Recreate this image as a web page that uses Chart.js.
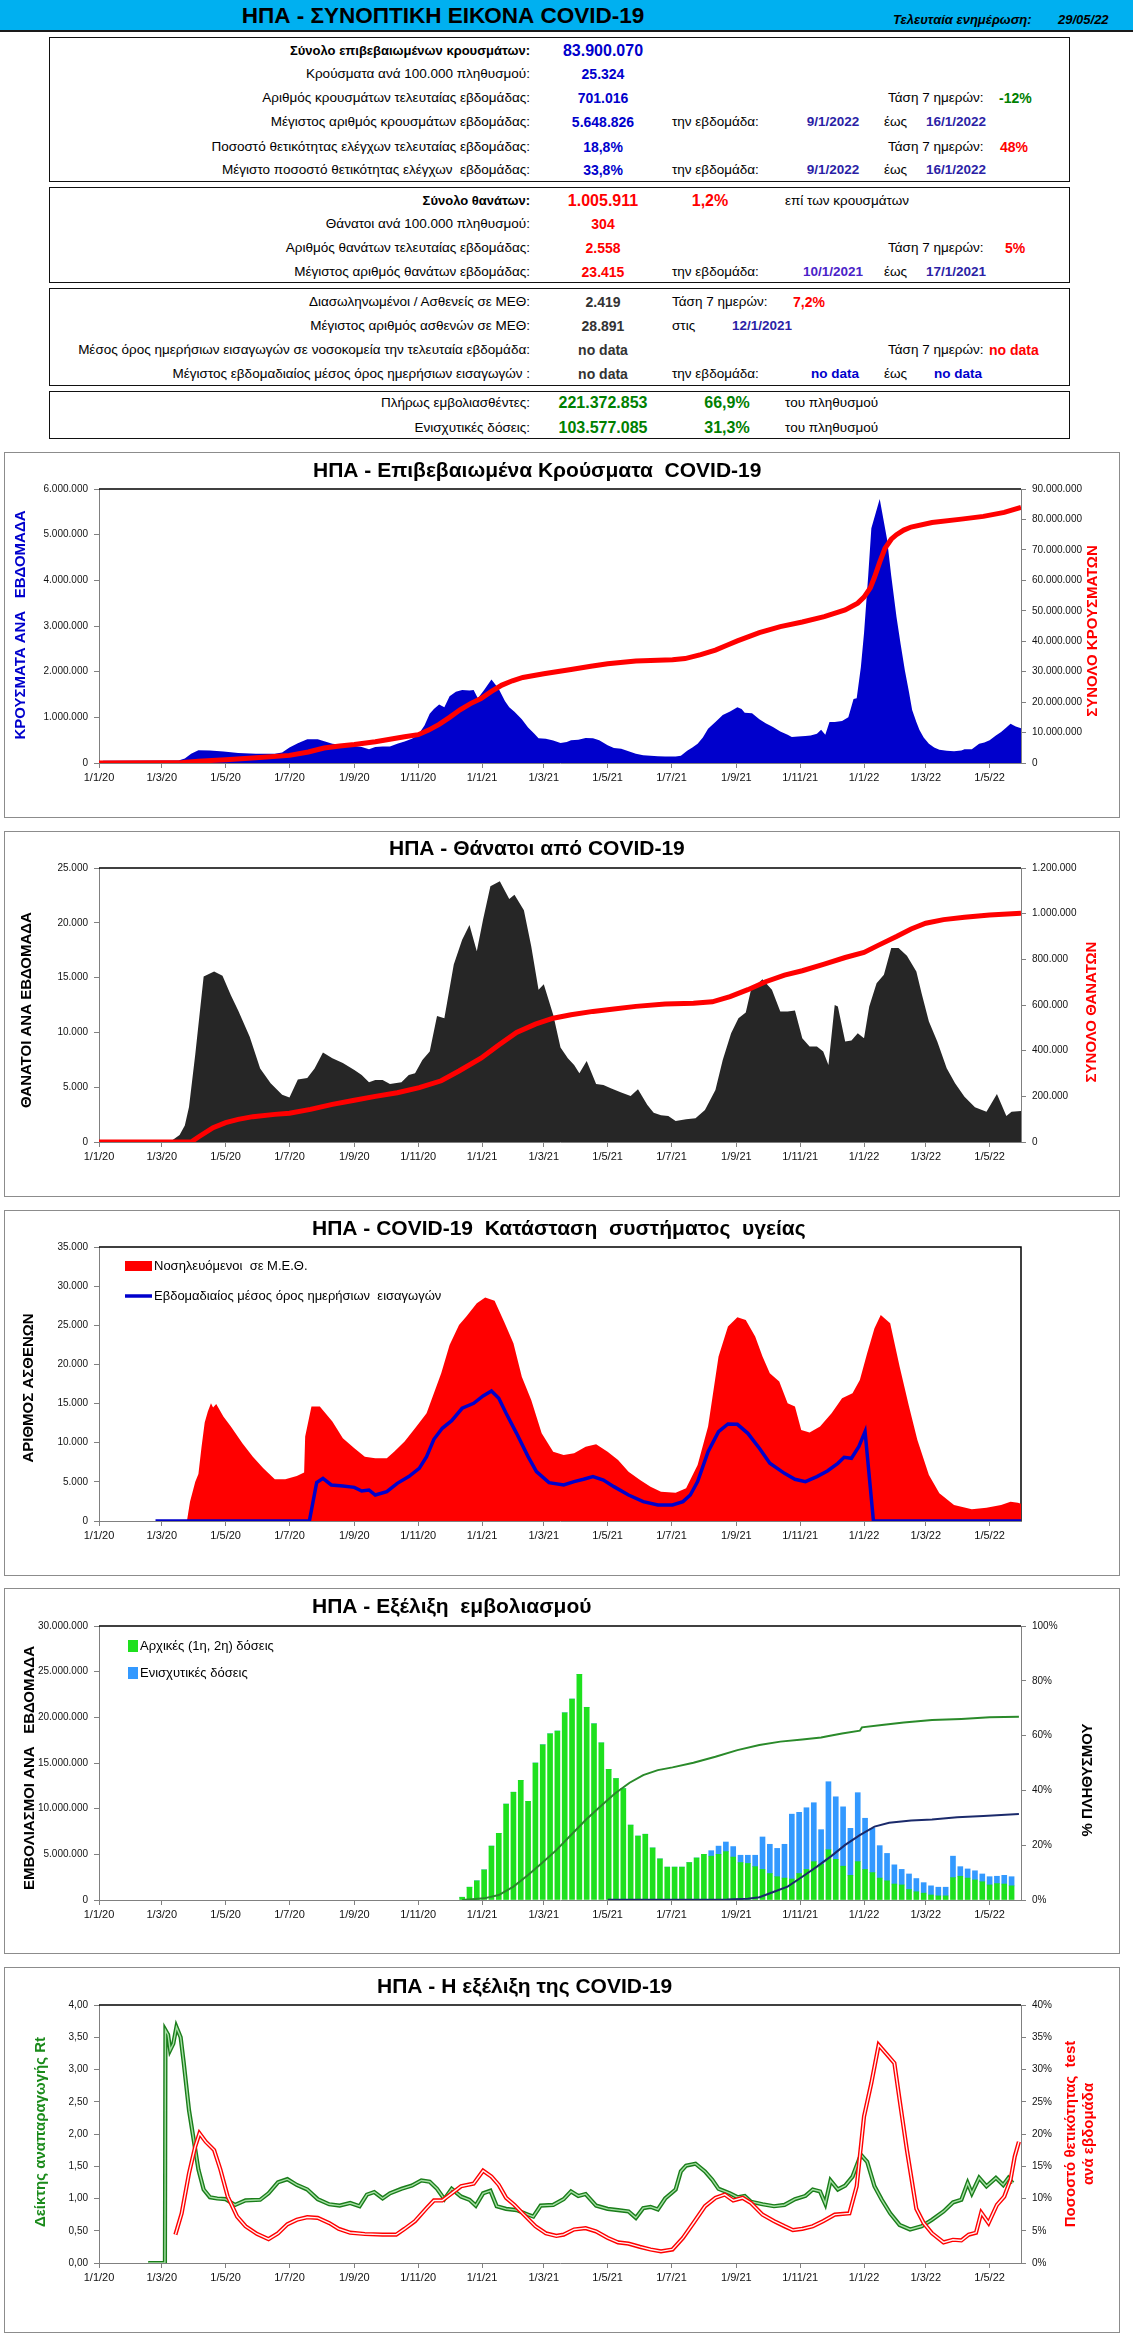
<!DOCTYPE html>
<html>
<head>
<meta charset="utf-8">
<script src="https://cdn.jsdelivr.net/npm/chart.js@4.4.1/dist/chart.umd.min.js"></script>
<style>
  html, body { margin: 0; padding: 0; background: #fff; }
  body { width: 1133px; height: 2345px; position: relative; overflow: hidden;
         font-family: "Liberation Sans", Arial, sans-serif; }
  .hdr { position: absolute; left: 0; top: 0; width: 1133px; height: 30px;
         background: #00b0f0; border-bottom: 2px solid #1a1a1a; }
  .box { position: absolute; left: 49px; width: 1021px; border: 1.5px solid #111; box-sizing: border-box; }
  .t { position: absolute; white-space: pre; font-size: 13.5px; line-height: 16px; color: #000; }
  .panel { position: absolute; left: 4px; width: 1116px; height: 366px;
           border: 1px solid #8c8c8c; box-sizing: border-box; }
  .panel canvas { position: absolute; left: 0; top: 0; }
</style>
</head>
<body>
<div class="hdr"></div>
<div class="box" style="top:37px;height:145px"></div>
<div class="box" style="top:187px;height:96px"></div>
<div class="box" style="top:288px;height:98px"></div>
<div class="box" style="top:391px;height:48px"></div>

<div class="panel" style="top:452px"><canvas id="c1" width="1114" height="364"></canvas></div>
<div class="panel" style="top:831px"><canvas id="c2" width="1114" height="364"></canvas></div>
<div class="panel" style="top:1210px"><canvas id="c3" width="1114" height="364"></canvas></div>
<div class="panel" style="top:1588px"><canvas id="c4" width="1114" height="364"></canvas></div>
<div class="panel" style="top:1967px"><canvas id="c5" width="1114" height="364"></canvas></div>

<script>
// ---- x axis: days counted from 1/1/2020 ----
const DAY_END = 881;
const tickDays = [0, 60, 121, 182, 244, 305, 366, 425, 486, 547, 609, 670, 731, 790, 851];
const tickLabels = ['1/1/20', '1/3/20', '1/5/20', '1/7/20', '1/9/20', '1/11/20', '1/1/21', '1/3/21',
                    '1/5/21', '1/7/21', '1/9/21', '1/11/21', '1/1/22', '1/3/22', '1/5/22'];

// ---- chart 1: weekly cases / total cases ----
const caseDays = [0, 4, 76, 82, 88, 95, 106, 119, 133, 150, 168, 175, 182, 190, 199, 209, 216, 223, 235, 244,
  251, 258, 264, 271, 278, 285, 292, 299, 305, 311, 316, 320, 325, 330, 335, 341, 347, 354, 358, 362, 368, 375,
  382, 388, 392, 397, 404, 410, 416, 420, 427, 434, 441, 447, 451, 458, 465, 472, 478, 486, 492, 499, 506, 513,
  520, 527, 534, 541, 551, 556, 562, 567, 572, 577, 582, 589, 596, 603, 610, 614, 617, 624, 631, 637, 644, 651,
  658, 662, 668, 675, 680, 686, 690, 694, 698, 703, 710, 716, 721, 724, 728, 731, 735, 738, 746, 753, 757, 762,
  766, 770, 774, 777, 781, 784, 788, 793, 798, 803, 810, 817, 824, 827, 834, 841, 846, 851, 857, 862, 867, 871,
  876, 881];
const casesWeekly = [0, 50000, 55000, 100000, 200000, 280000, 275000, 250000, 220000, 205000, 205000, 230000,
  340000, 430000, 520000, 520000, 470000, 420000, 390000, 370000, 350000, 300000, 350000, 360000, 360000, 420000,
  470000, 530000, 620000, 820000, 1080000, 1180000, 1280000, 1220000, 1460000, 1560000, 1600000, 1590000, 1600000,
  1420000, 1600000, 1830000, 1620000, 1350000, 1220000, 1120000, 960000, 780000, 640000, 540000, 530000, 490000,
  440000, 460000, 500000, 510000, 550000, 540000, 500000, 390000, 330000, 310000, 260000, 200000, 170000, 160000,
  150000, 140000, 140000, 160000, 270000, 340000, 420000, 560000, 750000, 900000, 1050000, 1130000, 1220000,
  1180000, 1100000, 1090000, 960000, 870000, 790000, 690000, 620000, 570000, 580000, 590000, 600000, 640000,
  730000, 620000, 900000, 900000, 920000, 1000000, 1400000, 1420000, 2100000, 2840000, 4100000, 5140000, 5780000,
  4900000, 4100000, 3200000, 2600000, 2030000, 1550000, 1160000, 900000, 720000, 560000, 420000, 340000, 290000,
  270000, 260000, 275000, 300000, 300000, 420000, 450000, 500000, 600000, 680000, 780000, 860000, 800000, 760000];
const totalCaseDays = [0, 60, 80, 95, 121, 150, 182, 200, 215, 230, 244, 264, 278, 292, 305, 315, 325, 335, 345,
  355, 365, 375, 385, 395, 405, 425, 451, 470, 486, 513, 548, 560, 575, 589, 600, 610, 631, 651, 672, 693, 713,
  725, 731, 737, 741, 746, 751, 757, 762, 769, 776, 796, 824, 845, 865, 881];
const casesTotal = [0, 100000, 200000, 600000, 1100000, 1700000, 2500000, 3600000, 4900000, 5600000, 6100000,
  7000000, 7800000, 8600000, 9300000, 10800000, 12700000, 15000000, 17500000, 19500000, 21200000, 23500000,
  25600000, 27000000, 28100000, 29300000, 30700000, 31800000, 32600000, 33500000, 33900000, 34300000, 35600000,
  37100000, 38700000, 40100000, 42800000, 44800000, 46300000, 48100000, 50300000, 52500000, 54500000, 57500000,
  61000000, 66000000, 70500000, 73500000, 75000000, 76500000, 77500000, 79000000, 80100000, 81000000, 82300000,
  84000000];

// ---- chart 2: weekly deaths / total deaths ----
const deathDays = [0, 4, 70, 77, 82, 86, 92, 100, 110, 118, 126, 133, 144, 154, 164, 175, 182, 190, 199, 206, 214,
  223, 233, 244, 251, 258, 264, 271, 278, 289, 296, 302, 309, 316, 323, 330, 339, 347, 354, 361, 367, 374, 383,
  392, 397, 406, 413, 420, 425, 434, 441, 448, 454, 459, 466, 475, 482, 489, 499, 508, 515, 524, 530, 537, 544,
  551, 561, 570, 579, 589, 596, 604, 611, 618, 623, 634, 643, 651, 658, 665, 672, 679, 686, 692, 697, 703, 706,
  713, 719, 725, 731, 736, 743, 750, 757, 764, 772, 781, 786, 793, 801, 810, 818, 827, 837, 848, 858, 867, 872, 881];
const deathsWeekly = [0, 150, 150, 640, 1500, 3200, 8000, 15100, 15560, 15160, 13400, 12000, 9600, 6700, 5360,
  4300, 4050, 5700, 5850, 6700, 8160, 7640, 7200, 6580, 6120, 5450, 5660, 5660, 5300, 5450, 6120, 6270, 7490,
  8250, 11500, 11300, 16200, 18450, 19800, 17400, 20300, 23330, 23790, 22170, 22570, 21140, 17850, 13890, 14400,
  11600, 8620, 7640, 7030, 6270, 7400, 5300, 5210, 4900, 4510, 4200, 4810, 3380, 2680, 2440, 2380, 1920, 2070,
  2160, 2920, 4750, 7490, 9930, 11300, 11810, 13890, 14860, 13890, 11900, 11900, 12000, 9470, 8710, 8710, 8250,
  7030, 12510, 12360, 9170, 9260, 9930, 9470, 12360, 14490, 15250, 17690, 17690, 17000, 15560, 13580, 11000, 9170,
  6740, 5360, 4140, 3170, 2770, 4390, 2380, 2770, 2830];
const totalDeathDays = [0, 88, 95, 109, 121, 133, 147, 168, 182, 202, 223, 244, 264, 285, 306, 327, 344, 365, 382,
  399, 417, 434, 451, 472, 492, 513, 541, 568, 586, 603, 620, 637, 655, 672, 693, 713, 731, 744, 762, 776, 790,
  807, 827, 851, 881];
const deathsTotal = [0, 0, 22000, 63000, 85000, 99000, 111000, 121000, 126000, 143000, 165000, 183000, 200000,
  216000, 238000, 268000, 311000, 367000, 425000, 480000, 516000, 542000, 557000, 572000, 582000, 594000, 604000,
  608000, 614000, 637000, 667000, 702000, 731000, 750000, 779000, 808000, 830000, 860000, 900000, 933000, 958000,
  974000, 984000, 994000, 1002000];

// ---- chart 3: ICU patients / weekly mean of daily admissions ----
const icuDays = [84, 87, 92, 95, 98, 101, 104, 107, 109, 112, 119, 126, 137, 147, 157, 168, 178, 189, 196, 197, 203,
  211, 223, 233, 244, 254, 264, 275, 282, 292, 302, 313, 320, 327, 335, 344, 351, 361, 369, 378, 387, 396, 404,
  413, 423, 434, 444, 454, 465, 475, 486, 496, 506, 517, 527, 537, 551, 561, 572, 582, 592, 601, 610, 618, 627,
  634, 641, 650, 658, 665, 671, 679, 689, 700, 710, 720, 727, 734, 741, 747, 756, 765, 774, 782, 793, 803, 817,
  834, 848, 862, 871, 878, 881];
const icuPatients = [0, 2500, 5000, 6000, 9500, 12570, 14000, 15040, 14500, 14950, 13330, 12060, 9930, 8220, 6730,
  5330, 5330, 5750, 6180, 10780, 14610, 14610, 12700, 10560, 9290, 8220, 8010, 8010, 8860, 10140, 11840, 13760,
  16320, 18870, 22490, 25050, 26110, 27820, 28540, 28120, 25470, 22700, 18440, 15460, 11200, 8860, 8430, 8650,
  9500, 9800, 8860, 7800, 6300, 5240, 4390, 3750, 3620, 4170, 7160, 12060, 21000, 24840, 26030, 25690, 23560,
  21000, 18870, 17810, 15040, 14610, 11630, 11290, 12060, 13760, 15680, 16320, 18020, 21430, 24620, 26320, 25260,
  19720, 14610, 10350, 5880, 3540, 2040, 1490, 1700, 2040, 2470, 2340, 2200];
const admDays = [54, 201, 208, 214, 222, 233, 244, 251, 258, 264, 275, 285, 296, 306, 313, 320, 328, 337, 347, 358,
  367, 375, 382, 389, 399, 410, 418, 430, 444, 454, 463, 472, 482, 492, 506, 520, 534, 548, 558, 565, 572, 582,
  592, 601, 610, 620, 631, 641, 655, 665, 675, 686, 696, 706, 712, 719, 726, 732, 740, 881];
const admissionsAvg = [0, 0, 4900, 5450, 4600, 4470, 4300, 3830, 3960, 3320, 3750, 4810, 5670, 6730, 8220, 10440,
  11840, 12820, 14400, 15040, 15980, 16610, 15680, 13760, 11200, 8220, 6300, 4900, 4600, 5030, 5330, 5670, 5240,
  4390, 3320, 2470, 2040, 2040, 2470, 3320, 5030, 8860, 11420, 12400, 12350, 11200, 9290, 7370, 6090, 5330, 5030,
  5670, 6390, 7370, 8140, 8010, 9500, 11420, 0, 0];

// ---- chart 4: weekly doses (millions), from week starting day 347 ----
const VAX_FIRST_DAY = 347;
const primaryDoses = [0.3, 1.4, 2.1, 3.3, 5.9, 7.3, 10.5, 11.8, 13.1, 10.8, 15.0, 17.0, 18.2, 18.5, 20.5, 22.0,
  24.7, 21.1, 19.3, 17.2, 14.3, 13.3, 12.2, 8.2, 7.0, 7.2, 5.7, 4.5, 3.6, 3.6, 3.6, 4.1, 4.6, 5.0, 4.8, 5.0, 5.3,
  4.7, 4.1, 4.0, 3.65, 3.35, 2.9, 2.55, 2.4, 2.3, 2.9, 3.35, 4.2, 3.9, 5.5, 4.45, 3.7, 2.7, 4.2, 3.35, 3.0, 2.4,
  2.1, 1.75, 1.65, 1.15, 0.9, 0.75, 0.55, 0.45, 0.45, 2.45, 2.6, 2.4, 2.2, 2.0, 1.65, 1.8, 1.75, 1.55];
const boosterDoses = [0, 0, 0, 0, 0, 0, 0, 0, 0, 0, 0, 0, 0, 0, 0, 0, 0, 0, 0, 0, 0, 0, 0, 0, 0, 0, 0, 0, 0, 0, 0,
  0, 0, 0, 0.6, 0.9, 1.05, 1.15, 0.8, 0.9, 1.25, 3.55, 3.2, 3.1, 3.7, 7.1, 6.7, 6.75, 6.45, 3.8, 7.45, 6.85, 6.5,
  5.15, 7.55, 5.6, 4.85, 3.55, 3.0, 2.1, 1.7, 1.7, 1.45, 1.15, 1.0, 0.95, 0.95, 2.35, 1.05, 1.0, 1.0, 0.85, 0.9,
  0.8, 0.95, 1.0];
const fullyVaxDays = [347, 368, 382, 396, 410, 423, 437, 451, 465, 479, 493, 507, 520, 534, 548, 568, 589, 610, 631,
  651, 672, 690, 696, 710, 727, 729, 748, 769, 796, 824, 851, 879];
const fullyVaxPct = [0, 0.6, 1.8, 4.9, 9.1, 13.4, 18.2, 23.7, 29.2, 34.1, 38.9, 42.8, 45.6, 47.4, 48.4, 50.1, 52.3,
  54.7, 56.6, 57.8, 58.6, 59.3, 59.8, 60.8, 61.8, 63.0, 63.9, 64.8, 65.7, 66.1, 66.7, 66.9];
const boostedDays = [486, 600, 620, 631, 645, 658, 672, 686, 700, 713, 727, 741, 755, 776, 796, 820, 845, 879];
const boostedPct = [0.1, 0.2, 0.5, 1.0, 3.0, 4.9, 8.5, 12.2, 16.1, 20.1, 23.7, 26.8, 28.2, 29.0, 29.4, 30.2, 30.7, 31.4];

// ---- chart 5: Rt and weekly test positivity ----
const rtDays = [47, 63, 63.5, 66, 68, 71, 74, 78, 81, 86, 90, 95, 100, 106, 113, 121, 130, 140, 154, 162, 171, 180,
  189, 199, 209, 220, 230, 240, 249, 256, 263, 271, 278, 289, 299, 308, 316, 323, 330, 337, 346, 354, 360, 367,
  374, 380, 389, 399, 410, 415, 422, 434, 444, 451, 458, 465, 475, 486, 496, 506, 513, 520, 527, 534, 541, 551,
  556, 561, 570, 579, 586, 592, 603, 610, 617, 623, 634, 645, 655, 665, 675, 682, 689, 694, 699, 706, 713, 720,
  728, 734, 741, 748, 756, 765, 775, 786, 796, 807, 816, 824, 830, 834, 841, 848, 857, 864, 869, 873];
const rtValues = [0, 0, 3.61, 3.54, 3.3, 3.4, 3.66, 3.5, 3.1, 2.37, 1.96, 1.45, 1.14, 1.02, 1.0, 0.99, 0.9, 0.97,
  0.98, 1.08, 1.25, 1.3, 1.21, 1.14, 0.99, 0.91, 0.89, 0.93, 0.88, 1.06, 1.1, 1.0, 1.08, 1.15, 1.2, 1.28, 1.26,
  1.15, 0.99, 1.15, 1.03, 0.98, 0.89, 1.08, 1.12, 0.88, 0.84, 0.82, 0.75, 0.72, 0.89, 0.9, 0.99, 1.11, 1.04, 1.07,
  0.89, 0.84, 0.82, 0.8, 0.7, 0.85, 0.87, 0.83, 1.0, 1.14, 1.42, 1.51, 1.54, 1.42, 1.29, 1.15, 1.08, 1.02, 1.04,
  0.95, 0.91, 0.88, 0.9, 0.99, 1.04, 1.14, 1.11, 0.92, 1.28, 1.14, 1.2, 1.34, 1.68, 1.57, 1.19, 0.98, 0.77, 0.59,
  0.52, 0.57, 0.67, 0.8, 0.94, 0.98, 1.24, 1.08, 1.32, 1.19, 1.32, 1.21, 1.32, 1.24];
const posDays = [73, 79, 86, 92, 96, 102, 110, 116, 123, 132, 140, 151, 162, 171, 180, 189, 199, 209, 220, 229, 240,
  254, 271, 284, 292, 302, 313, 320, 328, 337, 346, 358, 367, 375, 382, 389, 397, 406, 417, 427, 437, 444, 454,
  465, 475, 486, 496, 506, 517, 527, 537, 548, 558, 568, 579, 589, 598, 606, 615, 623, 634, 645, 655, 663, 672,
  682, 692, 703, 717, 724, 731, 738, 745, 752, 760, 765, 772, 781, 788, 796, 807, 816, 824, 831, 838, 843, 850,
  858, 865, 871, 875, 879];
const positivityPct = [4.4, 7.7, 13.9, 18.1, 20.1, 18.8, 17.5, 14.5, 10.3, 7.2, 5.7, 4.5, 3.7, 4.6, 6.0, 6.7, 7.1,
  7.0, 6.2, 5.3, 4.7, 4.5, 4.4, 4.4, 5.3, 6.5, 8.5, 9.7, 9.7, 10.8, 11.9, 12.3, 14.3, 13.4, 12.1, 10.1, 9.0, 7.5,
  5.7, 4.6, 4.2, 4.4, 5.2, 5.4, 4.9, 3.9, 3.2, 3.0, 2.5, 2.1, 1.8, 2.1, 3.9, 6.2, 8.8, 10.1, 10.6, 9.7, 10.1, 9.3,
  7.5, 6.5, 5.7, 5.1, 5.3, 5.7, 6.5, 7.5, 7.7, 11.9, 22.7, 27.9, 33.8, 32.5, 31.0, 25.3, 17.5, 8.4, 6.2, 4.6, 3.2,
  3.6, 3.5, 4.4, 4.7, 7.8, 6.2, 9.0, 10.3, 12.9, 16.5, 18.8];

// ---- summary table at the top: [text, x, y, align, style] ----
const B = 'font-weight:bold;';
const BLUE = B + 'font-size:14px;color:#0000cc;';
const DATE = B + 'color:#2c1fa6;';
const RED = B + 'font-size:14px;color:#ff0000;';
const DARK = B + 'font-size:14px;color:#333;';
const GRN = B + 'font-size:16px;color:#008000;';
const info = [
  ['ΗΠΑ - ΣΥΝΟΠΤΙΚΗ ΕΙΚΟΝΑ COVID-19', 443, 16, 'c', B + 'font-size:22.5px;line-height:26px;'],
  ['Τελευταία ενημέρωση:', 893, 20, 'l', B + 'font-style:italic;font-size:13px;'],
  ['29/05/22', 1058, 20, 'l', B + 'font-style:italic;font-size:13px;'],

  ['Σύνολο επιβεβαιωμένων κρουσμάτων:', 530, 51, 'r', B + 'font-size:13px;'],
  ['83.900.070', 603, 51, 'c', B + 'font-size:16px;color:#0000cc;'],
  ['Κρούσματα ανά 100.000 πληθυσμού:', 530, 74, 'r', ''],
  ['25.324', 603, 74, 'c', BLUE],
  ['Αριθμός κρουσμάτων τελευταίας εβδομάδας:', 530, 98, 'r', ''],
  ['701.016', 603, 98, 'c', BLUE],
  ['Τάση 7 ημερών:', 888, 98, 'l', ''],
  ['-12%', 999, 98, 'l', B + 'font-size:14px;color:#008000;'],
  ['Μέγιστος αριθμός κρουσμάτων εβδομάδας:', 530, 122, 'r', ''],
  ['5.648.826', 603, 122, 'c', BLUE],
  ['την εβδομάδα:', 672, 122, 'l', ''],
  ['9/1/2022', 833, 122, 'c', DATE],
  ['έως', 884, 122, 'l', ''],
  ['16/1/2022', 956, 122, 'c', DATE],
  ['Ποσοστό θετικότητας ελέγχων τελευταίας εβδομάδας:', 530, 147, 'r', ''],
  ['18,8%', 603, 147, 'c', BLUE],
  ['Τάση 7 ημερών:', 888, 147, 'l', ''],
  ['48%', 1000, 147, 'l', RED],
  ['Μέγιστο ποσοστό θετικότητας ελέγχων  εβδομάδας:', 530, 170, 'r', ''],
  ['33,8%', 603, 170, 'c', BLUE],
  ['την εβδομάδα:', 672, 170, 'l', ''],
  ['9/1/2022', 833, 170, 'c', DATE],
  ['έως', 884, 170, 'l', ''],
  ['16/1/2022', 956, 170, 'c', DATE],

  ['Σύνολο θανάτων:', 530, 201, 'r', B + 'font-size:13px;'],
  ['1.005.911', 603, 201, 'c', B + 'font-size:16px;color:#ff0000;'],
  ['1,2%', 710, 201, 'c', B + 'font-size:16px;color:#ff0000;'],
  ['επί των κρουσμάτων', 785, 201, 'l', ''],
  ['Θάνατοι ανά 100.000 πληθυσμού:', 530, 224, 'r', ''],
  ['304', 603, 224, 'c', RED],
  ['Αριθμός θανάτων τελευταίας εβδομάδας:', 530, 248, 'r', ''],
  ['2.558', 603, 248, 'c', RED],
  ['Τάση 7 ημερών:', 888, 248, 'l', ''],
  ['5%', 1005, 248, 'l', RED],
  ['Μέγιστος αριθμός θανάτων εβδομάδας:', 530, 272, 'r', ''],
  ['23.415', 603, 272, 'c', RED],
  ['την εβδομάδα:', 672, 272, 'l', ''],
  ['10/1/2021', 833, 272, 'c', B + 'color:#4a22c8;'],
  ['έως', 884, 272, 'l', ''],
  ['17/1/2021', 956, 272, 'c', DATE],

  ['Διασωληνωμένοι / Ασθενείς σε ΜΕΘ:', 530, 302, 'r', ''],
  ['2.419', 603, 302, 'c', DARK],
  ['Τάση 7 ημερών:', 672, 302, 'l', ''],
  ['7,2%', 793, 302, 'l', RED],
  ['Μέγιστος αριθμός ασθενών σε ΜΕΘ:', 530, 326, 'r', ''],
  ['28.891', 603, 326, 'c', DARK],
  ['στις', 672, 326, 'l', ''],
  ['12/1/2021', 762, 326, 'c', DATE],
  ['Μέσος όρος ημερήσιων εισαγωγών σε νοσοκομεία την τελευταία εβδομάδα:', 530, 350, 'r', ''],
  ['no data', 603, 350, 'c', DARK],
  ['Τάση 7 ημερών:', 888, 350, 'l', ''],
  ['no data', 989, 350, 'l', RED],
  ['Μέγιστος εβδομαδιαίος μέσος όρος ημερήσιων εισαγωγών :', 530, 374, 'r', ''],
  ['no data', 603, 374, 'c', DARK],
  ['την εβδομάδα:', 672, 374, 'l', ''],
  ['no data', 835, 374, 'c', B + 'color:#0000cc;'],
  ['έως', 884, 374, 'l', ''],
  ['no data', 958, 374, 'c', B + 'color:#0000cc;'],

  ['Πλήρως εμβολιασθέντες:', 530, 403, 'r', ''],
  ['221.372.853', 603, 403, 'c', GRN],
  ['66,9%', 727, 403, 'c', GRN],
  ['του πληθυσμού', 785, 403, 'l', ''],
  ['Ενισχυτικές δόσεις:', 530, 428, 'r', ''],
  ['103.577.085', 603, 428, 'c', GRN],
  ['31,3%', 727, 428, 'c', GRN],
  ['του πληθυσμού', 785, 428, 'l', '']
];

const shift = { l: 'translate(0,-50%)', c: 'translate(-50%,-50%)', r: 'translate(-100%,-50%)' };
info.forEach(([text, x, y, align, style]) => {
  const d = document.createElement('div');
  d.className = 't';
  d.textContent = text;
  d.style.cssText = `left:${x}px;top:${y}px;transform:${shift[align]};` + style;
  document.body.appendChild(d);
});

// ---- charts ----
const FONT = '"Liberation Sans", Arial, sans-serif';
Chart.defaults.font.family = FONT;
Chart.defaults.color = '#111';

const pts = (days, vals) => days.map((d, i) => ({ x: d, y: vals[i] }));
const dots = n => Math.round(n).toString().replace(/\B(?=(\d{3})+(?!\d))/g, '.');
const UP = -Math.PI / 2;

// titles, axis titles, legends and the black top frame line
const decor = {
    id: 'decor',
    beforeDatasetsDraw(chart, args, o) {
        const { ctx, chartArea: a } = chart;
        ctx.save();
        ctx.strokeStyle = '#000';
        ctx.lineWidth = 1.5;
        ctx.beginPath();
        ctx.moveTo(a.left, a.top);
        ctx.lineTo(a.right, a.top);
        if (o.frameRight) ctx.lineTo(a.right, a.bottom);
        ctx.stroke();
        ctx.restore();
    },
    afterDraw(chart, args, o) {
        const ctx = chart.ctx;
        (o.texts || []).forEach(t => {
            ctx.save();
            ctx.translate(t.x, t.y);
            if (t.rot) ctx.rotate(t.rot);
            ctx.font = t.font;
            ctx.fillStyle = t.color || '#000';
            ctx.textAlign = t.align || 'center';
            ctx.textBaseline = 'middle';
            ctx.fillText(t.text, 0, 0);
            ctx.restore();
        });
        (o.legend || []).forEach(l => {
            const ds = chart.data.datasets[l.index];
            ctx.save();
            if (l.kind === 'line') {
                ctx.strokeStyle = ds.borderColor;
                ctx.lineWidth = ds.borderWidth;
                ctx.beginPath();
                ctx.moveTo(l.x, l.y);
                ctx.lineTo(l.x + l.w, l.y);
                ctx.stroke();
            } else {
                ctx.fillStyle = ds.backgroundColor;
                ctx.fillRect(l.x, l.y - l.h / 2, l.w, l.h);
            }
            ctx.fillStyle = '#000';
            ctx.font = '13px ' + FONT;
            ctx.textBaseline = 'middle';
            ctx.fillText(ds.label, l.x + l.w + 2, l.y);
            ctx.restore();
        });
    }
};

function xAxis(h) {
    return {
        type: 'linear', min: 0, max: DAY_END, offset: false,
        afterBuildTicks: s => { s.ticks = tickDays.map(v => ({ value: v })); },
        ticks: { autoSkip: false, maxRotation: 0, font: { size: 11 }, padding: 3,
                 callback: (v, i) => tickLabels[i] },
        grid: { drawOnChartArea: false, tickLength: 5, color: '#808080', offset: false },
        border: { color: '#808080' },
        afterFit: s => { s.height = h; }
    };
}

function yAxis(position, max, step, label, width) {
    return {
        position, min: 0, max,
        ticks: { stepSize: step, font: { size: 10 }, padding: 6, callback: label },
        grid: { drawOnChartArea: false, tickLength: 5, color: '#808080' },
        border: { color: '#808080' },
        afterFit: s => { s.width = width; }
    };
}

function title(text, x, y) {
    return { text, x, y, font: 'bold 21px ' + FONT, align: 'left' };
}

function axisTitle(text, x, y, color) {
    return { text, x, y, rot: UP, font: 'bold 15px ' + FONT, color };
}

function makeChart(id, datasets, scales, padding, decorOpts) {
    return new Chart(document.getElementById(id), {
        data: { datasets },
        options: {
            responsive: false, animation: false, devicePixelRatio: 1,
            layout: { padding },
            scales,
            elements: { point: { radius: 0 }, line: { tension: 0 } },
            plugins: { legend: { display: false }, tooltip: { enabled: false }, decor: decorOpts }
        },
        plugins: [decor]
    });
}

// 1. cases
makeChart('c1', [
    { type: 'line', label: 'Σύνολο κρουσμάτων', data: pts(totalCaseDays, casesTotal), yAxisID: 'y1',
      borderColor: '#ff0000', borderWidth: 5, fill: false, order: 1 },
    { type: 'line', label: 'Κρούσματα ανά εβδομάδα', data: pts(caseDays, casesWeekly), yAxisID: 'y',
      backgroundColor: '#0000cc', borderWidth: 0, fill: 'origin', order: 2 }
], {
    x: xAxis(30),
    y: yAxis('left', 6000000, 1000000, dots, 94),
    y1: yAxis('right', 90000000, 10000000, dots, 98)
}, { left: 0, right: 0, top: 36, bottom: 24 }, {
    texts: [
        title('ΗΠΑ - Επιβεβαιωμένα Κρούσματα  COVID-19', 308, 18),
        axisTitle('ΚΡΟΥΣΜΑΤΑ ΑΝΑ   ΕΒΔΟΜΑΔΑ', 16, 172, '#0000cc'),
        axisTitle('ΣΥΝΟΛΟ ΚΡΟΥΣΜΑΤΩΝ', 1088, 178, '#ff0000')
    ]
});

// 2. deaths
makeChart('c2', [
    { type: 'line', label: 'Σύνολο θανάτων', data: pts(totalDeathDays, deathsTotal), yAxisID: 'y1',
      borderColor: '#ff0000', borderWidth: 5, fill: false, order: 1 },
    { type: 'line', label: 'Θάνατοι ανά εβδομάδα', data: pts(deathDays, deathsWeekly), yAxisID: 'y',
      backgroundColor: '#262626', borderWidth: 0, fill: 'origin', order: 2 }
], {
    x: xAxis(30),
    y: yAxis('left', 25000, 5000, dots, 94),
    y1: yAxis('right', 1200000, 200000, dots, 98)
}, { left: 0, right: 0, top: 36, bottom: 24 }, {
    texts: [
        title('ΗΠΑ - Θάνατοι από COVID-19', 384, 17),
        axisTitle('ΘΑΝΑΤΟΙ ΑΝΑ ΕΒΔΟΜΑΔΑ', 22, 178, '#000'),
        axisTitle('ΣΥΝΟΛΟ ΘΑΝΑΤΩΝ', 1087, 180, '#ff0000')
    ]
});

// 3. health system
makeChart('c3', [
    { type: 'line', label: 'Νοσηλευόμενοι  σε Μ.Ε.Θ.', data: pts(icuDays, icuPatients), yAxisID: 'y',
      backgroundColor: '#ff0000', borderWidth: 0, fill: 'origin', order: 2 },
    { type: 'line', label: 'Εβδομαδιαίος μέσος όρος ημερήσιων  εισαγωγών', data: pts(admDays, admissionsAvg),
      yAxisID: 'y', borderColor: '#0000cc', borderWidth: 3.5, fill: false, order: 1 }
], {
    x: xAxis(30),
    y: yAxis('left', 35000, 5000, dots, 94)
}, { left: 0, right: 98, top: 36, bottom: 24 }, {
    frameRight: true,
    texts: [
        title('ΗΠΑ - COVID-19  Κατάσταση  συστήματος  υγείας', 307, 18),
        axisTitle('ΑΡΙΘΜΟΣ ΑΣΘΕΝΩΝ', 24, 177, '#000')
    ],
    legend: [
        { index: 0, kind: 'box', x: 120, y: 55, w: 27, h: 10 },
        { index: 1, kind: 'line', x: 120, y: 85, w: 27 }
    ]
});

// 4. vaccination
const vaxDays = primaryDoses.map((v, i) => VAX_FIRST_DAY + 7 * i);
makeChart('c4', [
    { type: 'bar', label: 'Αρχικές (1η, 2η) δόσεις', data: pts(vaxDays, primaryDoses), yAxisID: 'y',
      backgroundColor: '#1ee01e', barThickness: 5, grouped: false, borderWidth: 0, order: 2 },
    { type: 'bar', label: 'Ενισχυτικές δόσεις', data: pts(vaxDays, boosterDoses), yAxisID: 'y',
      backgroundColor: '#3399ff', barThickness: 5, grouped: false, borderWidth: 0, order: 3 },
    { type: 'line', label: 'Πλήρως εμβολιασθέντες', data: pts(fullyVaxDays, fullyVaxPct), yAxisID: 'y1',
      borderColor: '#2a8a2a', borderWidth: 2, fill: false, order: 0 },
    { type: 'line', label: 'Ενισχυτικές', data: pts(boostedDays, boostedPct), yAxisID: 'y1',
      borderColor: '#1b2a6b', borderWidth: 2, fill: false, order: 1 }
], {
    x: xAxis(30),
    y: Object.assign(yAxis('left', 30, 5, v => dots(v * 1000000), 94), { stacked: true }),
    y1: yAxis('right', 100, 20, v => v + '%', 98)
}, { left: 0, right: 0, top: 37, bottom: 23 }, {
    texts: [
        title('ΗΠΑ - Εξέλιξη  εμβολιασμού', 307, 18),
        axisTitle('ΕΜΒΟΛΙΑΣΜΟΙ ΑΝΑ   ΕΒΔΟΜΑΔΑ', 25, 179, '#000'),
        axisTitle('% ΠΛΗΘΥΣΜΟΥ', 1083, 191, '#000')
    ],
    legend: [
        { index: 0, kind: 'box', x: 123, y: 57, w: 10, h: 12 },
        { index: 1, kind: 'box', x: 123, y: 84, w: 10, h: 12 }
    ]
});

// 5. Rt and positivity (double lines: dark outer, light inner)
makeChart('c5', [
    { type: 'line', label: 'Θετικότητα', data: pts(posDays, positivityPct), yAxisID: 'y1',
      borderColor: '#fff4f4', borderWidth: 1.4, fill: false, order: 0 },
    { type: 'line', label: 'Θετικότητα', data: pts(posDays, positivityPct), yAxisID: 'y1',
      borderColor: '#ff0000', borderWidth: 4.2, fill: false, order: 1 },
    { type: 'line', label: 'Rt', data: pts(rtDays, rtValues), yAxisID: 'y',
      borderColor: '#a6e0a6', borderWidth: 1.4, fill: false, order: 2 },
    { type: 'line', label: 'Rt', data: pts(rtDays, rtValues), yAxisID: 'y',
      borderColor: '#1a7d1a', borderWidth: 4.2, fill: false, order: 3 }
], {
    x: xAxis(30),
    y: yAxis('left', 4, 0.5, v => v.toFixed(2).replace('.', ','), 94),
    y1: yAxis('right', 40, 5, v => v + '%', 98)
}, { left: 0, right: 0, top: 37, bottom: 39 }, {
    texts: [
        title('ΗΠΑ - Η εξέλιξη της COVID-19', 372, 19),
        axisTitle('Δείκτης αναπαραγωγής Rt', 36, 164, '#1a8a1a'),
        axisTitle('Ποσοστό θετικότητας  test', 1066, 166, '#ff0000'),
        axisTitle('ανά εβδομάδα', 1084, 166, '#ff0000')
    ]
});
</script>
</body>
</html>
